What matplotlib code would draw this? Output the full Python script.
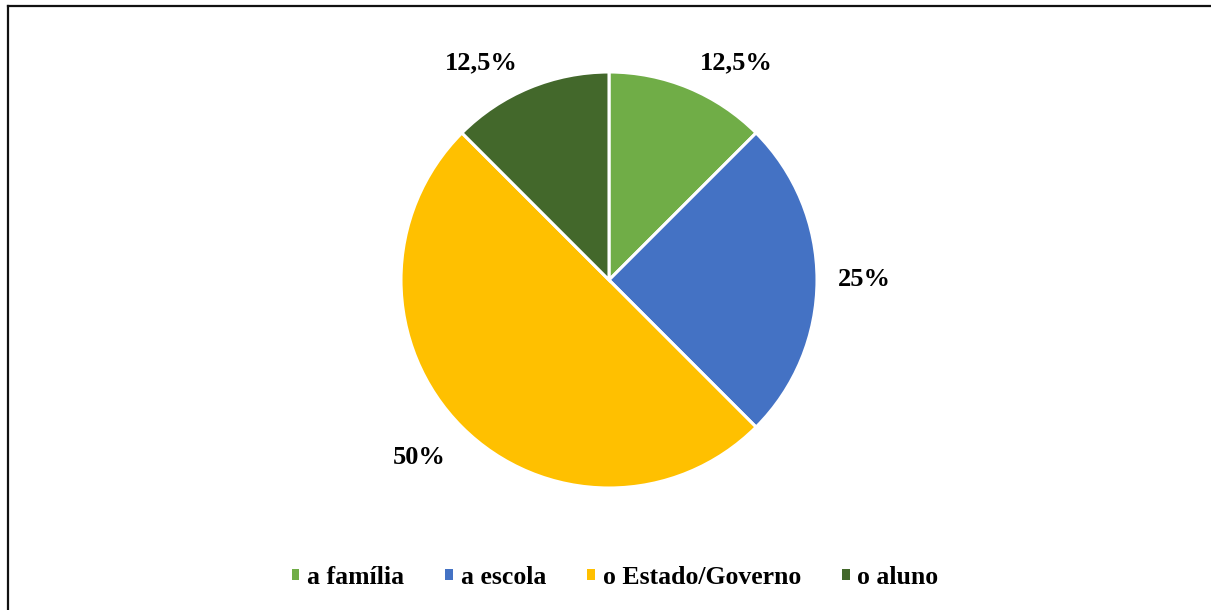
import matplotlib
matplotlib.use("Agg")
import matplotlib.pyplot as plt
from matplotlib.lines import Line2D
from matplotlib.patches import Patch
import numpy as np

categories = ["a família", "a escola", "o Estado/Governo", "o aluno"]
values = [12.5, 25, 50, 12.5]
value_labels = ["12,5%", "25%", "50%", "12,5%"]
colors = ["#70AD47", "#4472C4", "#FFC000", "#43682B"]
label_angle_shift = [-8, 0, -2, 8]
label_dist = [1.21, 1.23, 1.25, 1.21]

W, H = 1211, 610
fig = plt.figure(figsize=(W / 100, H / 100), dpi=100)
plt.rcParams['font.family'] = ['Liberation Serif', 'DejaVu Serif']

cx, cy, r = 609, 280, 208
ax = fig.add_axes([(cx - r) / W, (H - cy - r) / H, 2 * r / W, 2 * r / H])
wedges, _ = ax.pie(values, colors=colors, startangle=90, counterclock=False,
                   radius=1, wedgeprops=dict(edgecolor="white", linewidth=2.2))
ax.set_xlim(-1, 1)
ax.set_ylim(-1, 1)
ax.set_aspect("equal")
ax.axis("off")

for w, lab, sh, d in zip(wedges, value_labels, label_angle_shift, label_dist):
    ang = np.deg2rad((w.theta1 + w.theta2) / 2 + sh)
    ax.text(d * np.cos(ang), d * np.sin(ang), lab, ha="center", va="center",
            fontsize=19, fontweight="bold", color="black", clip_on=False)

handles = [Patch(facecolor=c, edgecolor="none") for c in colors]
leg = fig.legend(handles, categories, loc="center", bbox_to_anchor=(615 / W, 1 - 577 / H),
                 ncol=4, frameon=False, handlelength=0.3, handleheight=0.3,
                 handletextpad=0.3, columnspacing=1.6,
                 prop=dict(family="Liberation Serif", weight="bold", size=18.5))

# figure border (top and left visible)
fig.add_artist(Line2D([7.5 / W, 1], [1 - 5.5 / H, 1 - 5.5 / H], transform=fig.transFigure,
                      color="#111111", linewidth=1.6))
fig.add_artist(Line2D([7.5 / W, 7.5 / W], [0, 1 - 5.5 / H], transform=fig.transFigure,
                      color="#111111", linewidth=1.6))

fig.savefig("out.png", dpi=100)
